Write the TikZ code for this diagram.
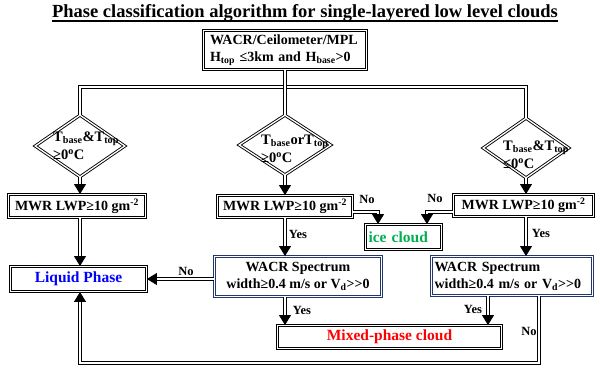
\documentclass[tikz,border=0pt]{standalone}
\usepackage{fontspec}
\setmainfont{Liberation Serif}
\usetikzlibrary{arrows.meta,shapes.geometric,calc}
\definecolor{navy}{RGB}{32,56,110}
\definecolor{icegreen}{RGB}{0,176,80}
\begin{document}
\begin{tikzpicture}[x=1pt,y=-1pt,
  font=\bfseries\fontsize{14}{17}\selectfont,
  box/.style={draw, double, double distance=1.3pt, line width=0.9pt, inner sep=0pt, align=center},
  bluebox/.style={box, draw=navy},
  dia/.style={draw, double, double distance=1.3pt, line width=0.9pt, diamond, inner sep=0pt},
  dtext/.style={anchor=west, align=left, inner sep=0pt, font=\bfseries\fontsize{14.5}{18}\selectfont},
  ctext/.style={font=\bfseries\fontsize{15.5}{17}\selectfont},
  conn/.style={double, double distance=1.5pt, line width=0.8pt},
  arr/.style={conn, -{Triangle[length=10pt,width=12pt]}},
  lab/.style={inner sep=0pt, font=\bfseries\fontsize{12.5}{14}\selectfont}]
\useasboundingbox (0,0) rectangle (600,370);
% title
\node[inner sep=0pt, anchor=base, font=\bfseries\fontsize{18.5}{20}\selectfont] (title) at (305,17.5) {Phase classification algorithm for single-layered low level clouds};
\draw[line width=1.4pt] ($(title.base west)+(0,3.5)$) -- ($(title.base east)+(0,3.5)$);
% boxes
\node[box, minimum width=163pt, minimum height=39pt, text width=150pt, align=left] (top) at (285,50)
  {WACR/Ceilometer/MPL\\H\textsubscript{top} ≤3km and H\textsubscript{base}>0};
\node[dia, minimum width=90pt, minimum height=62pt] (d1) at (80,146) {};
\node[dia, minimum width=92pt, minimum height=60pt] (d2) at (285,145) {};
\node[dia, minimum width=86pt, minimum height=60pt] (d3) at (526,148) {};
\node[dtext] (t1) at (53,146) {T\textsubscript{base}\&T\textsubscript{top}\\≥0\textsuperscript{o}C};
\node[dtext] (t2) at (261,149) {T\textsubscript{base}orT\textsubscript{top}\\≥0\textsuperscript{o}C};
\node[dtext] (t3) at (503,155) {T\textsubscript{base}\&T\textsubscript{top}\\≤0\textsuperscript{o}C};
\node[box, minimum width=137pt, minimum height=23pt] (m1) at (77,206) {MWR LWP≥10 gm\textsuperscript{-2}};
\node[box, minimum width=135pt, minimum height=22pt] (m2) at (285,206.5) {MWR LWP≥10 gm\textsuperscript{-2}};
\node[box, minimum width=140pt, minimum height=22pt] (m3) at (523.5,205.5) {MWR LWP≥10 gm\textsuperscript{-2}};
\node[box, ctext, minimum width=76pt, minimum height=25pt, text width=70pt, align=left, text=icegreen] (ice) at (403.5,237) {ice cloud};
\node[box, ctext, minimum width=136pt, minimum height=25pt, text=blue] (liq) at (78.5,279) {Liquid Phase};
\node[bluebox, minimum width=167pt, minimum height=40pt] (w2) at (298,276.5) {WACR Spectrum\\width≥0.4 m/s or V\textsubscript{d}>{}>0};
\node[bluebox, minimum width=161pt, minimum height=39pt, text width=155pt, align=left] (w3) at (512,276) {WACR Spectrum\\width≥0.4 m/s or V\textsubscript{d}>{}>0};
\node[box, ctext, minimum width=224pt, minimum height=23pt, text=red] (mix) at (389.5,337) {Mixed-phase cloud};
% connectors
\coordinate (jl) at (80,87);
\coordinate (jr) at (526,87);
\coordinate (corner) at (80,363);
\coordinate (w3a) at ($(w3.south)+(-24,0)$);
\coordinate (w3b) at ($(w3.south)+(27,0)$);
\draw[conn] (d1.north) -- (jl) -- (jr) -- (d3.north);
\draw[conn] (top.south) -- (d2.north);
\draw[arr] (d1.south) -- (d1.south |- m1.north);
\draw[arr] (d2.south) -- (d2.south |- m2.north);
\draw[arr] (d3.south) -- (d3.south |- m3.north);
\draw[arr] (m1.south -| d1.south) -- (liq.north -| d1.south);
\draw[arr] (m2.south) -- (m2.south |- w2.north);
\draw[arr] (m3.south -| d3.south) -- (w3.north -| d3.south);
\draw[arr] ($(m2.east)+(0,5.5)$) -| ($(ice.north west)+(13,0)$);
\draw[arr] ($(m3.west)+(0,6.5)$) -| ($(ice.north east)+(-15,0)$);
\draw[arr] (w2.west |- liq.east) -- (liq.east);
\draw[arr] (w2.south -| m2.south) -- (mix.north -| m2.south);
\draw[arr] (w3a) -- (w3a |- mix.north);
\draw[arr] (w3b) |- (corner) -- (liq.south -| corner);
% labels
\node[lab] (n1) at (186,271) {No};
\node[lab] (y1) at (298,234) {Yes};
\node[lab] (y2) at (302,310) {Yes};
\node[lab] (n2) at (367,199) {No};
\node[lab] (n3) at (435,198) {No};
\node[lab] (y3) at (541,233) {Yes};
\node[lab] (y4) at (473,309) {Yes};
\node[lab] (n4) at (529,331) {No};
\end{tikzpicture}
\end{document}
